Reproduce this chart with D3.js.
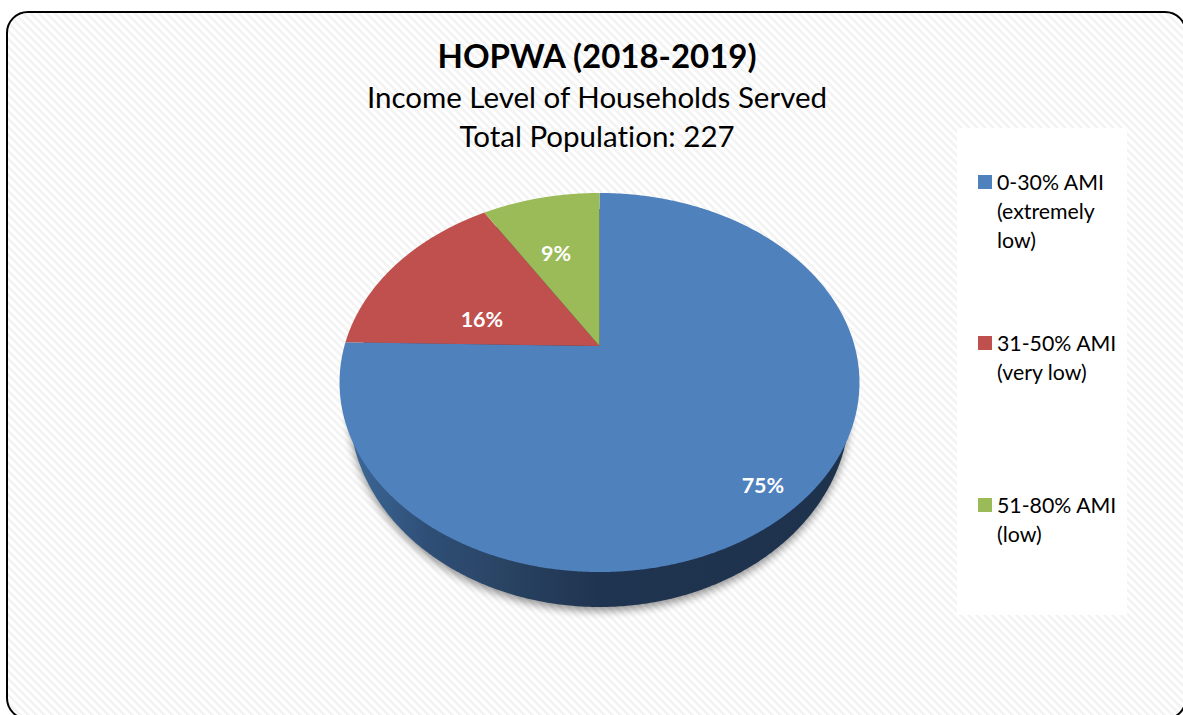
<!DOCTYPE html>
<html><head><meta charset="utf-8">
<script src="https://cdn.jsdelivr.net/npm/d3@7/dist/d3.min.js"></script>
<style>html,body{margin:0;padding:0;background:#fff;overflow:hidden}svg{display:block}text{font-family:Lato,"Open Sans",sans-serif;fill:#000;font-variant-ligatures:none}</style>
</head><body><svg id="c" width="1183" height="715"></svg>
<script>
const categories = ["0-30% AMI (extremely low)", "31-50% AMI (very low)", "51-80% AMI (low)"];
const legendLines = [["0-30% AMI","(extremely","low)"],["31-50% AMI","(very low)"],["51-80% AMI","(low)"]];
const householdCounts = [171, 36, 20];
const sliceColors = ["#4f81bd", "#c0504d", "#9bbb59"];
const labelOffsets = [[36,46],[18,29],[-3,9]];
const titleLines = ["HOPWA (2018-2019)", "Income Level of Households Served", "Total Population: 227"];

const svg = d3.select("#c"), defs = svg.append("defs");

// background hatch
const pat = defs.append("pattern").attr("id","hatch").attr("patternUnits","userSpaceOnUse").attr("width",8).attr("height",8);
pat.append("rect").attr("width",8).attr("height",8).attr("fill","#fff");
d3.range(8).forEach(i=>d3.range(4).forEach(j=>{
  pat.append("rect").attr("x",(i+j)%8).attr("y",i).attr("width",1).attr("height",1).attr("fill","#f4f4f4").attr("shape-rendering","crispEdges");
}));
svg.append("rect").attr("width",1183).attr("height",715).attr("fill","#fff");
svg.append("rect").attr("x",7).attr("y",12).attr("width",1179).attr("height",707).attr("rx",21)
  .attr("fill","url(#hatch)").attr("stroke","#000").attr("stroke-width",2);

// titles
const titleY=[68,108,147], titleSize=[33,29.5,29.5];
svg.selectAll("text.t").data(titleLines).join("text").attr("class","t")
  .attr("x",597).attr("y",(d,i)=>titleY[i]).attr("text-anchor","middle")
  .attr("font-size",(d,i)=>titleSize[i]).attr("font-weight",(d,i)=>i?400:700).text(d=>d);

// legend panel
svg.append("rect").attr("x",957).attr("y",128).attr("width",170).attr("height",487).attr("fill","#fff");
const legendTop=[190,351,513];
legendLines.forEach((lines,i)=>{
  svg.append("rect").attr("x",978).attr("y",legendTop[i]-15).attr("width",14).attr("height",14).attr("fill",sliceColors[i]);
  lines.forEach((l,j)=>svg.append("text").attr("x",997).attr("y",legendTop[i]+j*29).attr("font-size",21.3).text(l));
});

// pie in perspective: unit circle -> picture plane
const cx=599.5, apexY=346, k=-0.1926;
const sx=d3.scaleLinear().domain([-1,1]).range([-255.1,255.1]);
const sy=d3.scaleLinear().domain([-1,1]).range([-182.5,182.5]);
const project=(a,r)=>{const x=Math.sin(a)*r,y=-Math.cos(a)*r,w=1+k*y;return [cx+sx(x)/w,apexY+sy(y)/w];};
const pie=d3.pie().sort(null).value(d=>d)(householdCounts);
const total=d3.sum(householdCounts);
const line=d3.line();

// side wall ellipse
const bx=d3.scaleLinear().domain([-1,1]).range([349.5,849.5]);
const by=d3.scaleLinear().domain([-1,1]).range([209,607]);
const circle=d3.range(0,2*Math.PI,0.01).map(a=>[bx(Math.cos(a)),by(Math.sin(a))]);
const grad=defs.append("linearGradient").attr("id","wall").attr("gradientUnits","userSpaceOnUse")
  .attr("x1",350).attr("x2",850).attr("y1",0).attr("y2",0);
[[0,"#3c6898"],[.15,"#2f4f77"],[.3,"#2a4464"],[.5,"#1f3450"],[1,"#1e324c"]].forEach(s=>grad.append("stop").attr("offset",s[0]).attr("stop-color",s[1]));
const blur=defs.append("filter").attr("id","sh").attr("x","-10%").attr("y","-10%").attr("width","120%").attr("height","120%");
blur.append("feGaussianBlur").attr("stdDeviation",4);
svg.append("path").attr("d",line(circle)+"Z").attr("fill","#000").attr("opacity",.42).attr("filter","url(#sh)").attr("transform","translate(0,4)");
svg.append("path").attr("d",line(circle)+"Z").attr("fill","url(#wall)");

// slices
svg.selectAll("path.s").data(pie).join("path").attr("class","s")
  .attr("fill",(d,i)=>sliceColors[i])
  .attr("d",d=>{
    const n=Math.ceil((d.endAngle-d.startAngle)/0.005);
    const pts=d3.range(n+1).map(i=>project(d.startAngle+(d.endAngle-d.startAngle)*i/n,1));
    return line([[cx,apexY],...pts])+"Z";
  });

// data labels
svg.selectAll("text.l").data(pie).join("text").attr("class","l")
  .attr("x",(d,i)=>project((d.startAngle+d.endAngle)/2,.65)[0]+labelOffsets[i][0])
  .attr("y",(d,i)=>project((d.startAngle+d.endAngle)/2,.65)[1]+labelOffsets[i][1])
  .attr("dy",".35em").attr("text-anchor","middle").attr("font-size",21.5).attr("font-weight",700)
  .style("fill","#fff").text(d=>Math.round(d.data/total*100)+"%");
</script></body></html>
